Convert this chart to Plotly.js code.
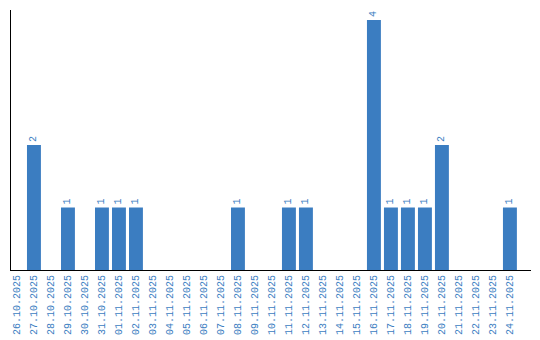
<!DOCTYPE html>
<html><head><meta charset="utf-8">
<script src="https://cdn.plot.ly/plotly-3.0.1.min.js"></script>
<style>html,body{margin:0;padding:0;background:#fff}#chart{width:540px;height:340px}</style>
</head><body><div id="chart"></div>
<script>
const dates = ["26.10.2025","27.10.2025","28.10.2025","29.10.2025","30.10.2025","31.10.2025","01.11.2025","02.11.2025","03.11.2025","04.11.2025","05.11.2025","06.11.2025","07.11.2025","08.11.2025","09.11.2025","10.11.2025","11.11.2025","12.11.2025","13.11.2025","14.11.2025","15.11.2025","16.11.2025","17.11.2025","18.11.2025","19.11.2025","20.11.2025","21.11.2025","22.11.2025","23.11.2025","24.11.2025"];
const counts = [0,2,0,1,0,1,1,1,0,0,0,0,0,1,0,0,1,1,0,0,0,4,1,1,1,2,0,0,0,1];
const labels = counts.map(v => v > 0 ? String(v) : "");
const blue = "#3b7dc1";
const font = {family: "Liberation Mono, monospace", size: 10, color: blue};
Plotly.newPlot("chart", [{
  type: "bar", x: dates, y: counts, text: labels,
  textposition: "outside", textangle: -90, cliponaxis: false,
  textfont: font, marker: {color: blue}, hoverinfo: "none"
}], {
  width: 540, height: 340,
  margin: {l: 11, r: 9, t: 10, b: 70},
  paper_bgcolor: "#fff", plot_bgcolor: "#fff",
  bargap: 0.18, showlegend: false,
  xaxis: {type: "category", range: [-0.35, 30.24], tickangle: -90, tickfont: font,
    showline: true, linecolor: "#000", linewidth: 1, showgrid: false, ticks: "", zeroline: false},
  yaxis: {range: [0, 4.16], showline: true, linecolor: "#000", linewidth: 1.3,
    showgrid: false, showticklabels: false, ticks: "", zeroline: false},
  font: font
}, {staticPlot: true});
</script></body></html>
